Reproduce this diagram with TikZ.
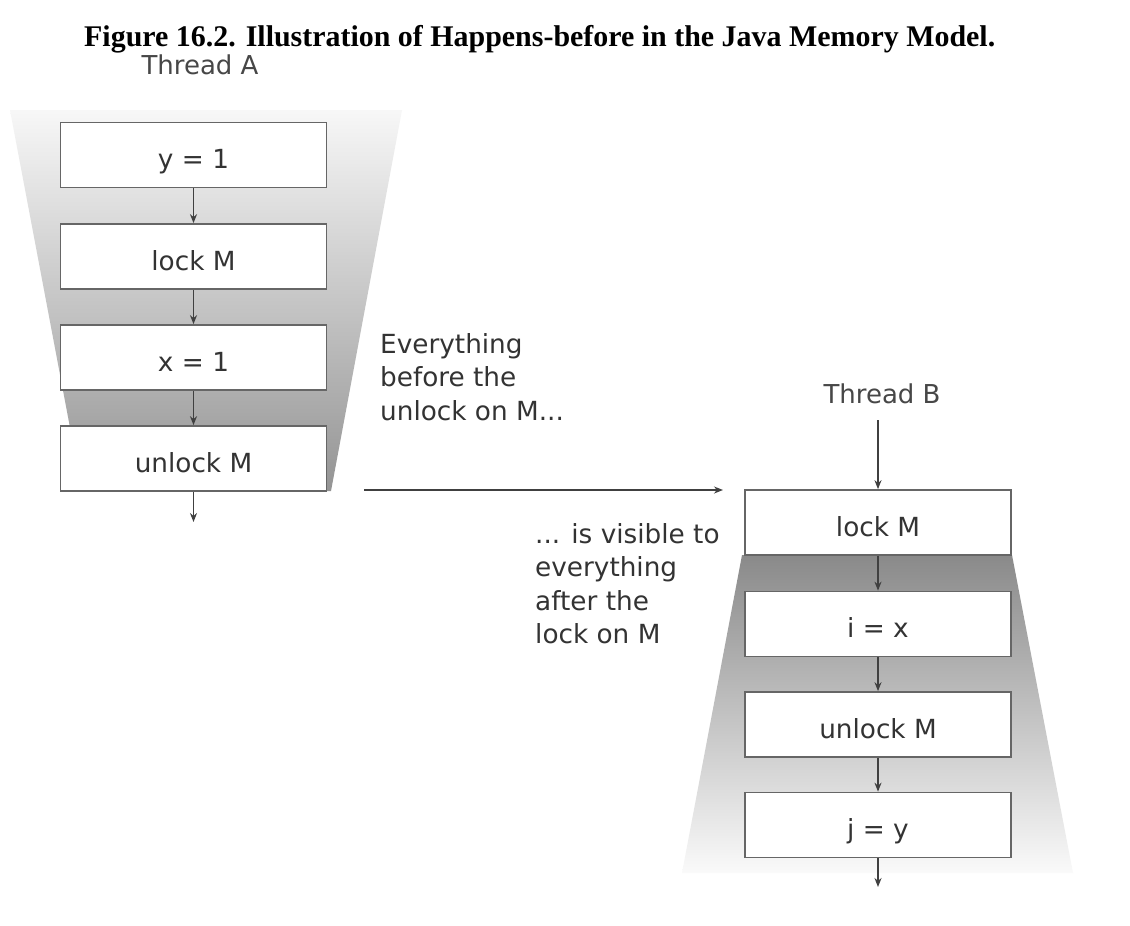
\documentclass[tikz,border=0pt]{standalone}
\usepackage{fontspec}
\usepackage{graphicx}
\setmainfont{DejaVu Sans}
\newfontfamily\titlefont{Liberation Serif}
\usetikzlibrary{arrows.meta}
\definecolor{boxline}{HTML}{666666}
\definecolor{txt}{HTML}{333333}
\definecolor{arr}{HTML}{404040}
\definecolor{thr}{HTML}{474747}
\begin{document}
\begin{tikzpicture}[x=1pt,y=-1pt,
  stepbox/.style={draw=boxline, line width=1.7pt, fill=white, minimum width=266pt,
    minimum height=65pt, inner sep=0pt, text height=27pt, text depth=0pt,
    font=\fontsize{26.3}{30}\selectfont, text=txt},
  flow/.style={draw=arr, line width=1.5pt, -{Stealth[length=9pt,width=7pt]}},
  lbl/.style={font=\fontsize{26.3}{33.5}\selectfont, text=txt, align=left,
    anchor=north west, inner sep=0pt},
  thread/.style={font=\fontsize{26}{30}\selectfont, text=thr, inner sep=0pt, anchor=base}
]
\useasboundingbox (0,0) rectangle (1130,926);
\fill[white] (0,0) rectangle (1130,926);

% title
\node[anchor=base west, inner sep=0pt, text=black] (title) at (84,46)
  {\resizebox{911pt}{\height}{\titlefont\bfseries\fontsize{30}{32}\selectfont Figure 16.2. Illustration of Happens-before in the Java Memory Model.}};

% funnels
\shade[top color=black!3, bottom color=black!42]
  (10,110) -- (402,110) -- (331,491) -- (82,491) -- cycle;
\shade[top color=black!46, bottom color=black!2]
  (742,555) -- (1012,555) -- (1073,873) -- (682,873) -- cycle;

% thread A
\node[thread] (thA) at (200,74) {Thread A};
\node[stepbox] (a1) at (193.5,155) {y = 1};
\node[stepbox] (a2) at (193.5,256.5) {lock M};
\node[stepbox] (a3) at (193.5,357.5) {x = 1};
\node[stepbox] (a4) at (193.5,458.5) {unlock M};
\coordinate (aend) at (193.5,522);
\draw[flow] (a1) -- (a2);
\draw[flow] (a2) -- (a3);
\draw[flow] (a3) -- (a4);
\draw[flow] (a4) -- (aend);

% thread B
\node[thread] (thB) at (882,403) {Thread B};
\coordinate (bstart) at (878,420);
\node[stepbox] (b1) at (878,522.5) {lock M};
\node[stepbox] (b2) at (878,624) {i = x};
\node[stepbox] (b3) at (878,724.5) {unlock M};
\node[stepbox] (b4) at (878,825) {j = y};
\coordinate (bend) at (878,887);
\draw[flow] (bstart) -- (b1);
\draw[flow] (b1) -- (b2);
\draw[flow] (b2) -- (b3);
\draw[flow] (b3) -- (b4);
\draw[flow] (b4) -- (bend);

% happens-before arrow
\coordinate (hbs) at (364,490);
\coordinate (hbe) at (723,490);
\draw[flow] (hbs) -- (hbe);

% labels
\node[lbl] (before) at (380,333) {Everything\\before the\\unlock on M...};
\node[lbl] (after) at (535,523) {... is visible to\\everything\\after the\\lock on M};
\end{tikzpicture}
\end{document}
